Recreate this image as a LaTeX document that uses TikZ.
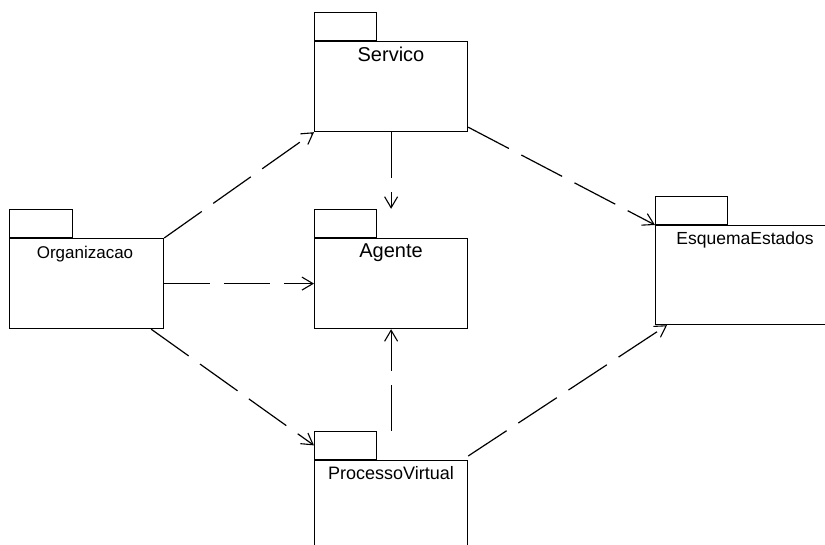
\documentclass[tikz,border=0pt]{standalone}
\usepackage{fontspec}
\setmainfont{Liberation Sans}
\usetikzlibrary{arrows.meta,calc}
\begin{document}
\begin{tikzpicture}[x=1pt,y=-1pt,
  pkgbody/.style={draw,line width=1.2pt,rectangle,inner sep=0pt,anchor=north west},
  pkgtab/.style={draw,line width=1.2pt,rectangle,inner sep=0pt,anchor=south west,minimum width=62pt,minimum height=28pt},
  pkglabel/.style={anchor=base,inner sep=0pt},
  dep/.style={line width=1.2pt,dash pattern=on 46pt off 14pt,
    -{Straight Barb[length=11pt,width=13pt,line width=1.1pt]}}]
\useasboundingbox (0,0) rectangle (825,545);

% packages: body (tab sits on its top-left edge)
\node[pkgbody,minimum width=153pt,minimum height=90pt] (serv) at (314,41) {};
\node[pkgtab] (servtab) at (serv.north west) {};
\node[pkglabel,font=\fontsize{20}{20}\selectfont] (servlbl) at (391,62) {Servico};

\node[pkgbody,minimum width=154pt,minimum height=90pt] (org) at (9,238) {};
\node[pkgtab,minimum width=63pt] (orgtab) at (org.north west) {};
\node[pkglabel,font=\fontsize{17}{17}\selectfont] (orglbl) at (85,259) {Organizacao};

\node[pkgbody,minimum width=153pt,minimum height=90pt] (ag) at (314,238) {};
\node[pkgtab] (agtab) at (ag.north west) {};
\node[pkglabel,font=\fontsize{20}{20}\selectfont] (aglbl) at (391,258) {Agente};

\node[pkgbody,minimum width=180pt,minimum height=99pt] (esq) at (655,225) {};
\node[pkgtab,minimum width=72pt] (esqtab) at (esq.north west) {};
\node[pkglabel,font=\fontsize{17.5}{17.5}\selectfont] (esqlbl) at (745,245) {EsquemaEstados};

\node[pkgbody,minimum width=153pt,minimum height=100pt] (pv) at (314,460) {};
\node[pkgtab] (pvtab) at (pv.north west) {};
\node[pkglabel,font=\fontsize{18}{18}\selectfont] (pvlbl) at (391,479) {ProcessoVirtual};

% connector end points
\coordinate (agtop) at (ag.north |- agtab.north);
\coordinate (pvtop) at (pv.north |- pvtab.north);
\coordinate (orgout) at ($(org.south east)+(-13,0)$);
\coordinate (servout) at ($(serv.south east)+(0,-5)$);
\coordinate (pvout) at ($(pv.north east)+(0,-4)$);
\coordinate (esqin) at ($(esq.south west)+(12,0)$);

% dependencies
\draw[dep] (org.north east) -- (serv.south west);
\draw[dep] (org.east) -- (ag.west);
\draw[dep] (orgout) -- (pvtab.west);
\draw[dep] (serv.south) -- (agtop);
\draw[dep] (servout) -- (esq.north west);
\draw[dep] (pvtop) -- (ag.south);
\draw[dep] (pvout) -- (esqin);
\end{tikzpicture}
\end{document}
